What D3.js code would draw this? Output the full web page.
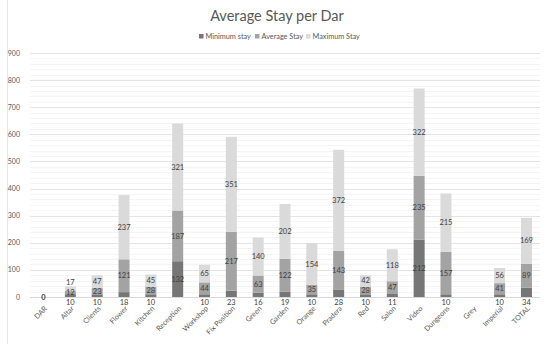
<!DOCTYPE html>
<html>
<head>
<meta charset="utf-8">
<script src="https://cdn.jsdelivr.net/npm/d3@7"></script>
<style>
  body { margin: 0; background: #fff; }
  svg { font-family: Lato, "Open Sans", sans-serif; }
</style>
</head>
<body>
<div id="chart"></div>
<script>
// data
var categories = ["DAR", "Altar", "Clients", "Flower", "Kitchen", "Reception", "Workshop", "Fix Position",
    "Green", "Garden", "Orange", "Pradera", "Red", "Salon", "Video", "Dungeons", "Grey", "Imperial", "TOTAL"];
var minStay = [0, 10, 10, 18, 10, 132, 10, 23, 16, 19, 10, 28, 10, 11, 212, 10, null, 10, 34];
var avgStay = [0, 12, 23, 121, 28, 187, 44, 217, 63, 122, 35, 143, 28, 47, 235, 157, null, 41, 89];
var maxStay = [0, 17, 47, 237, 45, 321, 65, 351, 140, 202, 154, 372, 42, 118, 322, 215, null, 56, 169];
var seriesNames = ["Minimum stay", "Average Stay", "Maximum Stay"];
var colors = ["#767676", "#a3a3a3", "#dadada"];
var yTicks = [0, 100, 200, 300, 400, 500, 600, 700, 800, 900];

var width = 550, height = 344;

var svg = d3.select("#chart").append("svg")
    .attr("width", width)
    .attr("height", height);

// chart border
svg.append("rect")
    .attr("x", 7.5).attr("y", -1)
    .attr("width", 560).attr("height", 360)
    .attr("fill", "none")
    .attr("stroke", "#e6e6e6");

var x = d3.scaleBand()
    .domain(categories)
    .range([30, 540])
    .paddingInner(0.59)
    .paddingOuter(0.3);

var y = d3.scaleLinear()
    .domain([0, 900])
    .range([297, 53]);

// minor grid
svg.append("g")
    .selectAll("line")
    .data(d3.range(0, 901, 20).filter(v => v % 100 != 0))
    .enter().append("line")
    .attr("x1", 30).attr("x2", 540)
    .attr("y1", d => Math.round(y(d)) + 0.5)
    .attr("y2", d => Math.round(y(d)) + 0.5)
    .attr("stroke", "#f4f4f4");

// major grid
svg.append("g")
    .selectAll("line")
    .data(yTicks)
    .enter().append("line")
    .attr("x1", 30).attr("x2", 540)
    .attr("y1", d => Math.round(y(d)) + 0.5)
    .attr("y2", d => Math.round(y(d)) + 0.5)
    .attr("stroke", d => d == 0 ? "#d9d9d9" : "#e4e4e4");

// y axis labels
svg.append("g")
    .selectAll("text")
    .data(yTicks)
    .enter().append("text")
    .attr("x", 20)
    .attr("y", d => y(d) + 2.5)
    .attr("text-anchor", "end")
    .attr("font-size", "7px")
    .attr("fill", "#595959")
    .text(d => d);

// stacked data
var rows = categories.map((c, i) => ({cat: c, min: minStay[i], avg: avgStay[i], max: maxStay[i]}));
var stack = d3.stack().keys(["min", "avg", "max"]).value((d, k) => d[k] || 0);
var layers = stack(rows);

var bars = svg.append("g");
layers.forEach(function(layer, li) {
    bars.selectAll(".s" + li)
        .data(layer)
        .enter().append("rect")
        .attr("class", "s" + li)
        .attr("x", d => x(d.data.cat))
        .attr("width", x.bandwidth())
        .attr("y", d => y(d[1]))
        .attr("height", d => y(d[0]) - y(d[1]))
        .attr("fill", colors[li]);
});

// data labels, pushed apart a little when segments are thin
var labels = svg.append("g")
    .attr("font-size", "7.5px")
    .attr("fill", "#404040")
    .attr("text-anchor", "middle");
rows.forEach(function(r, i) {
    var last = null;
    layers.forEach(function(layer, li) {
        var d = layer[i];
        var v = r[layer.key];
        if (v == null || v === 0) return;
        var cy = (y(d[0]) + y(d[1])) / 2;
        if (li == 0 && y(d[0]) - y(d[1]) < 12) cy = 302;
        if (last != null && last - cy < 10) cy = last - 10;
        last = cy;
        labels.append("text")
            .attr("x", x(r.cat) + x.bandwidth() / 2)
            .attr("y", cy + 2.7)
            .text(v);
    });
});
// the lone zero on DAR
labels.append("text")
    .attr("x", x("DAR") + x.bandwidth() / 2)
    .attr("y", y(0) + 2.7)
    .attr("font-weight", "bold")
    .text(minStay[0]);

// x axis labels
svg.append("g")
    .selectAll("text")
    .data(categories)
    .enter().append("text")
    .attr("transform", d => "translate(" + (x(d) + x.bandwidth() / 2 + 4) + ",309) rotate(-45)")
    .attr("text-anchor", "end")
    .attr("font-size", "7.2px")
    .attr("fill", "#595959")
    .text(d => d);

// title
svg.append("text")
    .attr("x", 277)
    .attr("y", 21)
    .attr("text-anchor", "middle")
    .attr("font-size", "14.5px")
    .attr("fill", "#595959")
    .text("Average Stay per Dar");

// legend
var legendX = [199, 255, 306];
var legend = svg.append("g");
seriesNames.forEach(function(name, i) {
    legend.append("rect")
        .attr("x", legendX[i]).attr("y", 34)
        .attr("width", 4.5).attr("height", 4.5)
        .attr("fill", colors[i]);
    legend.append("text")
        .attr("x", legendX[i] + 6.5)
        .attr("y", 39)
        .attr("font-size", "7.3px")
        .attr("fill", "#595959")
        .text(name);
});
</script>
</body>
</html>
